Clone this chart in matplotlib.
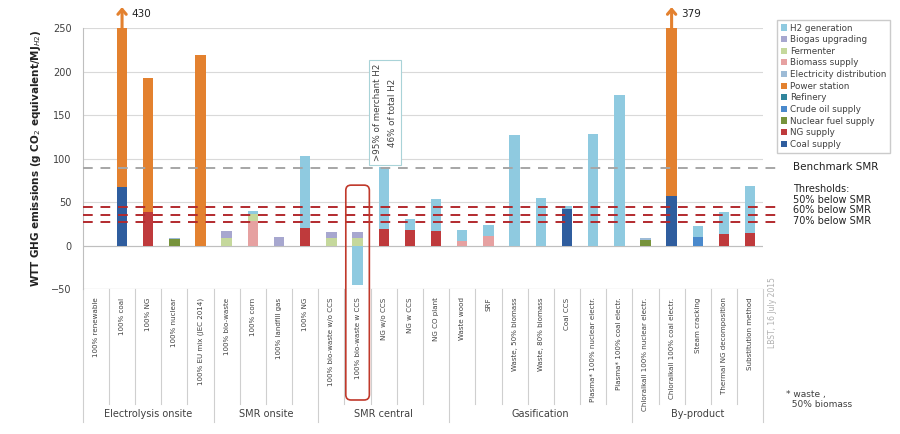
"""WTT GHG emissions of hydrogen pathways - stacked bar chart."""

import matplotlib
matplotlib.use("Agg")
import matplotlib.pyplot as plt
from matplotlib.patches import Patch, FancyBboxPatch
from matplotlib.lines import Line2D
import numpy as np

# categories (left to right) and their groups
categories = [
    "100% renewable", "100% coal", "100% NG", "100% nuclear", "100% EU mix (JEC 2014)",
    "100% bio-waste", "100% corn", "100% landfill gas", "100% NG",
    "100% bio-waste w/o CCS", "100% bio-waste w CCS", "NG w/o CCS", "NG w CCS", "NG CO plant",
    "Waste wood", "SRF", "Waste, 50% biomass", "Waste, 80% biomass", "Coal CCS",
    "Plasma* 100% nuclear electr.", "Plasma* 100% coal electr.",
    "Chloralkali 100% nuclear electr.", "Chloralkali 100% coal electr.", "Steam cracking",
    "Thermal NG decomposition", "Substitution method",
]
group_names = ["Electrolysis onsite", "SMR onsite", "SMR central", "Gasification", "By-product"]
group_sizes = [5, 4, 5, 7, 5]

# stack components, bottom to top (g CO2 eq / MJ H2)
coal_supply = [0, 67, 0, 0, 0, 0, 0, 0, 0, 0, 0, 0, 0, 0, 0, 0, 0, 0, 42, 0, 0, 0, 57, 0, 0, 0]
ng_supply = [0, 0, 38, 0, 0, 0, 0, 0, 20, 0, 0, 19, 18, 17, 0, 0, 0, 0, 0, 0, 0, 0, 0, 0, 13, 14]
nuclear_fuel_supply = [0, 0, 0, 8, 0, 0, 0, 0, 0, 0, 0, 0, 0, 0, 0, 0, 0, 0, 0, 0, 0, 6, 0, 0, 0, 0]
crude_oil_supply = [0, 0, 0, 0, 0, 0, 0, 0, 0, 0, 0, 0, 0, 0, 0, 0, 0, 0, 0, 0, 0, 0, 0, 10, 0, 0]
refinery = [0] * 26
power_station = [0, 363, 155, 0, 219, 0, 0, 0, 0, 0, 0, 0, 0, 0, 0, 0, 0, 0, 0, 0, 0, 0, 322, 0, 0, 0]
electricity_distribution = [0, 0, 0, 1, 0, 0, 0, 0, 0, 0, 0, 0, 0, 0, 0, 0, 0, 0, 0, 0, 0, 3, 0, 0, 0, 0]
biomass_supply = [0, 0, 0, 0, 0, 0, 28, 0, 0, 0, 0, 0, 0, 0, 5, 11, 0, 0, 0, 0, 0, 0, 0, 0, 0, 0]
fermenter = [0, 0, 0, 0, 0, 9, 8, 0, 0, 9, 9, 0, 0, 0, 0, 0, 0, 0, 0, 0, 0, 0, 0, 0, 0, 0]
biogas_upgrading = [0, 0, 0, 0, 0, 8, 0, 10, 0, 7, 7, 0, 0, 0, 0, 0, 0, 0, 0, 0, 0, 0, 0, 0, 0, 0]
h2_generation = [0, 0, 0, 0, 0, 0, 4, 0, 83, 0, -45, 71, 13, 36, 13, 13, 127, 55, 4, 128, 173,
                 0, 0, 12, 25, 54]

totals_clipped = [430, 379]   # labels of the bars that run off the top
benchmark_smr = 89
thresholds = [44.5, 35.6, 26.7]
threshold_labels = ["50% below SMR", "60% below SMR", "70% below SMR"]

components = [
    ("Coal supply", coal_supply, "#2F5D9E"),
    ("NG supply", ng_supply, "#BF3A3C"),
    ("Nuclear fuel supply", nuclear_fuel_supply, "#77933C"),
    ("Crude oil supply", crude_oil_supply, "#4A89CC"),
    ("Refinery", refinery, "#31859C"),
    ("Power station", power_station, "#E3812F"),
    ("Electricity distribution", electricity_distribution, "#9DBBD6"),
    ("Biomass supply", biomass_supply, "#E6A1A1"),
    ("Fermenter", fermenter, "#C5D89C"),
    ("Biogas upgrading", biogas_upgrading, "#A7A7CF"),
    ("H2 generation", h2_generation, "#8FCAE0"),
]

TXT = "#404040"
fig = plt.figure(figsize=(9, 4.34), dpi=100)
ax = fig.add_axes([0.092, 0.334, 0.756, 0.6015])

x = np.arange(len(categories))
pos_bottom = np.zeros(len(categories))
neg_bottom = np.zeros(len(categories))
handles = []
for name, vals, color in components:
    vals = np.array(vals, dtype=float)
    bottom = np.where(vals >= 0, pos_bottom, neg_bottom)
    ax.bar(x, vals, 0.4, bottom=bottom, color=color, zorder=3)
    pos_bottom += np.clip(vals, 0, None)
    neg_bottom += np.clip(vals, None, 0)
    handles.append(Patch(facecolor=color, label=name))

ax.set_xlim(-0.5, len(categories) - 0.5)
ax.set_ylim(-50, 250)
ax.set_yticks(np.arange(-50, 251, 50))
ax.tick_params(axis="y", length=0, labelsize=7, labelcolor=TXT, pad=8)
ax.grid(axis="y", color="#D9D9D9", lw=0.8, zorder=0)
for s in ["top", "right", "bottom"]:
    ax.spines[s].set_visible(False)
ax.spines["left"].set_color("#BFBFBF")
ax.axhline(0, color="#BFBFBF", lw=0.8, zorder=2)
ax.axhline(-50, color="#BFBFBF", lw=0.8, zorder=2)
ax.set_ylabel(r"WTT GHG emissions (g CO$_2$ equivalent/MJ$_{H2}$)", fontsize=7.5,
              fontweight="bold", color="#222222", labelpad=6)

# category tick labels
ax.set_xticks(x)
ax.set_xticklabels(categories, rotation=90, fontsize=5.1, color=TXT)
ax.tick_params(axis="x", length=0, pad=6)

# separator lines below the axis
tr = ax.get_xaxis_transform()
edges = np.cumsum([0] + group_sizes) - 0.5
for b in np.arange(-0.5, len(categories)):
    low = -0.51 if np.isclose(edges, b).any() else -0.44
    ax.add_line(Line2D([b, b], [0, low], transform=tr, color="#CFCFCF", lw=0.8, clip_on=False))
for name, lo, hi in zip(group_names, edges[:-1], edges[1:]):
    ax.text((lo + hi) / 2, -0.48, name, transform=tr, ha="center", va="center",
            fontsize=7, color=TXT)

# reference lines
ax.axhline(benchmark_smr, xmax=1.025, color="#A6A6A6", ls=(0, (5, 4)), lw=1.4, zorder=4,
           clip_on=False)
for t in thresholds:
    ax.axhline(t, xmax=1.025, color="#B22A2E", ls=(0, (5, 4)), lw=1.4, zorder=4, clip_on=False)
fig.text(0.881, 0.615, "Benchmark SMR", fontsize=7.5, color="#222222", va="center")
fig.text(0.881, 0.565, "Thresholds:", fontsize=7, color="#222222", va="center")
for i, lab in enumerate(threshold_labels):
    fig.text(0.881, 0.54 - i * 0.025, lab, fontsize=7, color="#222222", va="center")

# arrows for the bars running off the chart
tall = [i for i in range(len(categories)) if pos_bottom[i] > 250]
for i, lab in zip(tall, totals_clipped):
    ax.annotate("", xy=(i, 274), xytext=(i, 249), annotation_clip=False,
                arrowprops=dict(arrowstyle="->,head_width=0.3,head_length=0.35",
                                color="#E3812F", lw=2.2, shrinkA=0, shrinkB=0))
    ax.text(i + 0.35, 266, str(lab), fontsize=7.5, color="#222222", va="center")

# merchant hydrogen note
ax.text(11.05, 153, ">95% of merchant H2\n46% of total H2", rotation=90, fontsize=6.3,
        color=TXT, ha="center", va="center", linespacing=1.9,
        bbox=dict(boxstyle="square,pad=0.45", fc="white", ec="#A9D3D8", lw=0.8))
ax.add_patch(FancyBboxPatch((9.55, -0.425), 0.9, 0.823, transform=tr,
                            boxstyle="round,pad=0,rounding_size=0.2", mutation_aspect=0.1,
                            fc="none", ec="#C0392B", lw=1.2, clip_on=False, zorder=6))

# legend
fig.legend(handles=handles[::-1], loc="upper left", bbox_to_anchor=(0.858, 0.965),
           fontsize=6.3, frameon=True, edgecolor="#BFBFBF", fancybox=False,
           handlelength=0.7, handleheight=0.7, handletextpad=0.4, labelspacing=0.3,
           borderpad=0.45, labelcolor=TXT)

fig.text(0.858, 0.28, "LBST, 16 July 2015", rotation=90, fontsize=5.5, color="#B0B0B0",
         va="center", ha="center")
fig.text(0.873, 0.08, "* waste ,\n  50% biomass", fontsize=6.5, color=TXT, va="center")

fig.savefig("out.png", dpi=100, facecolor="white")
